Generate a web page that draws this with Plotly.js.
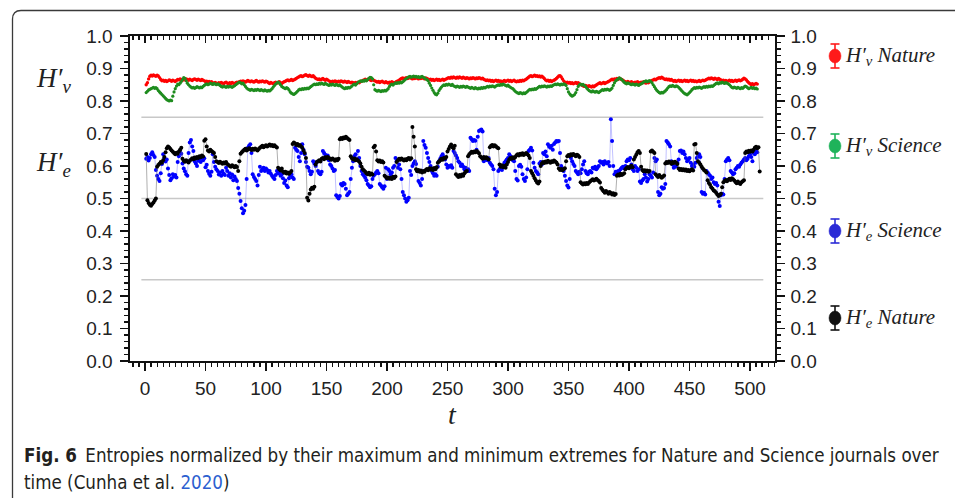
<!DOCTYPE html>
<html><head><meta charset="utf-8">
<script src="https://cdn.plot.ly/plotly-3.0.1.min.js"></script>
<style>html,body{margin:0;padding:0;background:#fff;overflow:hidden}#chart{width:955px;height:498px}</style>
</head><body><div id="chart"></div><script>
// H'_v Nature (red)
const hvNature = [
0.850,0.856,0.868,0.876,0.879,0.877,0.880,0.878,0.876,0.879,
0.877,0.872,0.866,0.862,0.864,0.861,0.863,0.860,0.862,0.865,
0.863,0.861,0.864,0.862,0.860,0.863,0.866,0.865,0.868,0.866,
0.864,0.867,0.865,0.868,0.866,0.864,0.867,0.865,0.863,0.866,
0.868,0.866,0.864,0.867,0.865,0.863,0.866,0.864,0.862,0.860,
0.861,0.858,0.860,0.857,0.859,0.856,0.854,0.857,0.855,0.853,
0.856,0.854,0.857,0.855,0.853,0.856,0.858,0.855,0.853,0.856,
0.854,0.857,0.855,0.853,0.856,0.858,0.857,0.859,0.861,0.860,
0.862,0.860,0.858,0.861,0.863,0.861,0.859,0.862,0.860,0.858,
0.861,0.863,0.860,0.858,0.861,0.859,0.862,0.860,0.858,0.861,
0.859,0.856,0.854,0.857,0.855,0.853,0.856,0.858,0.855,0.857,
0.859,0.856,0.854,0.857,0.859,0.861,0.863,0.865,0.862,0.864,
0.866,0.863,0.865,0.867,0.869,0.872,0.874,0.876,0.878,0.875,
0.877,0.879,0.881,0.878,0.876,0.879,0.877,0.875,0.878,0.874,
0.870,0.868,0.866,0.868,0.865,0.867,0.869,0.866,0.864,0.867,
0.865,0.862,0.860,0.858,0.861,0.859,0.862,0.860,0.858,0.861,
0.859,0.862,0.860,0.858,0.861,0.859,0.857,0.860,0.858,0.856,
0.858,0.856,0.854,0.857,0.855,0.858,0.856,0.859,0.861,0.863,
0.865,0.867,0.864,0.866,0.868,0.865,0.863,0.866,0.864,0.862,
0.860,0.858,0.860,0.857,0.859,0.861,0.858,0.856,0.859,0.857,
0.855,0.858,0.856,0.859,0.857,0.855,0.858,0.860,0.862,0.864,
0.867,0.869,0.871,0.868,0.870,0.872,0.869,0.871,0.873,0.870,
0.868,0.871,0.869,0.872,0.870,0.868,0.871,0.869,0.872,0.870,
0.868,0.871,0.869,0.867,0.865,0.867,0.864,0.866,0.863,0.865,
0.867,0.864,0.866,0.863,0.865,0.867,0.864,0.866,0.868,0.870,
0.872,0.870,0.873,0.871,0.874,0.872,0.870,0.873,0.871,0.874,
0.872,0.870,0.873,0.871,0.869,0.872,0.870,0.868,0.871,0.869,
0.872,0.870,0.868,0.871,0.869,0.872,0.870,0.868,0.870,0.867,
0.865,0.863,0.865,0.862,0.864,0.861,0.863,0.860,0.862,0.864,
0.861,0.863,0.860,0.862,0.859,0.861,0.863,0.860,0.862,0.864,
0.861,0.863,0.860,0.862,0.864,0.861,0.859,0.862,0.860,0.863,
0.861,0.864,0.862,0.865,0.867,0.870,0.873,0.876,0.878,0.875,
0.877,0.879,0.876,0.878,0.875,0.877,0.874,0.876,0.873,0.869,
0.865,0.862,0.864,0.861,0.863,0.860,0.862,0.864,0.866,0.869,
0.873,0.877,0.878,0.874,0.868,0.862,0.858,0.856,0.858,0.855,
0.857,0.854,0.856,0.853,0.855,0.857,0.854,0.856,0.853,0.851,
0.849,0.847,0.845,0.848,0.846,0.844,0.847,0.845,0.843,0.846,
0.844,0.847,0.849,0.852,0.854,0.856,0.853,0.855,0.857,0.854,
0.856,0.858,0.860,0.862,0.865,0.867,0.865,0.868,0.866,0.869,
0.867,0.870,0.868,0.866,0.864,0.861,0.859,0.857,0.860,0.858,
0.856,0.859,0.857,0.855,0.858,0.856,0.859,0.857,0.855,0.858,
0.856,0.859,0.857,0.855,0.858,0.856,0.859,0.861,0.863,0.865,
0.867,0.865,0.868,0.870,0.872,0.870,0.873,0.871,0.868,0.866,
0.868,0.865,0.867,0.864,0.866,0.863,0.861,0.863,0.860,0.862,
0.864,0.861,0.863,0.860,0.862,0.864,0.861,0.863,0.860,0.862,
0.864,0.861,0.863,0.860,0.862,0.859,0.861,0.863,0.860,0.862,
0.864,0.862,0.864,0.866,0.868,0.870,0.868,0.871,0.869,0.867,
0.870,0.868,0.866,0.869,0.867,0.865,0.862,0.864,0.861,0.863,
0.860,0.862,0.864,0.861,0.863,0.860,0.862,0.864,0.861,0.863,
0.865,0.862,0.864,0.867,0.870,0.868,0.865,0.860,0.856,0.853,
0.851,0.853,0.850,0.852,0.854,0.852];
// H'_v Science (green)
const hvScience = [
0.826,0.830,0.834,0.836,0.838,0.840,0.842,0.839,0.841,0.838,
0.832,0.828,0.824,0.820,0.816,0.812,0.808,0.804,0.802,0.800,
0.803,0.801,0.815,0.828,0.838,0.846,0.852,0.850,0.855,0.860,
0.866,0.872,0.870,0.862,0.855,0.850,0.846,0.843,0.840,0.842,
0.839,0.841,0.844,0.842,0.840,0.843,0.841,0.845,0.848,0.851,
0.853,0.850,0.852,0.855,0.853,0.851,0.854,0.852,0.850,0.853,
0.851,0.848,0.845,0.843,0.846,0.844,0.842,0.845,0.843,0.846,
0.844,0.842,0.845,0.847,0.850,0.853,0.856,0.858,0.856,0.853,
0.855,0.850,0.845,0.840,0.837,0.835,0.833,0.836,0.834,0.832,
0.835,0.833,0.836,0.834,0.832,0.835,0.833,0.831,0.834,0.832,
0.830,0.833,0.831,0.834,0.838,0.843,0.848,0.852,0.856,0.858,
0.855,0.850,0.845,0.842,0.840,0.838,0.841,0.839,0.834,0.828,
0.824,0.822,0.820,0.823,0.826,0.830,0.834,0.837,0.835,0.838,
0.836,0.839,0.837,0.840,0.838,0.841,0.844,0.847,0.850,0.852,
0.850,0.853,0.851,0.854,0.852,0.855,0.853,0.851,0.854,0.852,
0.850,0.848,0.851,0.849,0.852,0.850,0.848,0.851,0.849,0.847,
0.850,0.846,0.843,0.840,0.838,0.841,0.839,0.842,0.840,0.843,
0.846,0.850,0.852,0.849,0.853,0.857,0.860,0.862,0.860,0.863,
0.861,0.864,0.862,0.866,0.870,0.873,0.872,0.868,0.850,0.835,
0.832,0.830,0.833,0.831,0.829,0.832,0.830,0.833,0.831,0.834,
0.838,0.845,0.850,0.852,0.849,0.853,0.856,0.854,0.857,0.855,
0.858,0.856,0.859,0.862,0.866,0.869,0.872,0.874,0.876,0.873,
0.875,0.877,0.874,0.876,0.873,0.875,0.872,0.874,0.876,0.873,
0.871,0.868,0.866,0.862,0.855,0.848,0.840,0.833,0.826,0.821,
0.819,0.824,0.832,0.838,0.843,0.847,0.850,0.848,0.851,0.849,
0.852,0.850,0.848,0.851,0.847,0.845,0.843,0.846,0.844,0.842,
0.845,0.843,0.846,0.844,0.842,0.845,0.843,0.841,0.839,0.842,
0.840,0.838,0.841,0.839,0.837,0.840,0.838,0.841,0.839,0.842,
0.840,0.843,0.845,0.843,0.846,0.844,0.847,0.845,0.843,0.846,
0.848,0.850,0.848,0.851,0.849,0.852,0.850,0.848,0.846,0.849,
0.845,0.842,0.840,0.838,0.834,0.830,0.827,0.825,0.823,0.826,
0.824,0.822,0.825,0.823,0.826,0.829,0.833,0.836,0.834,0.837,
0.835,0.838,0.836,0.839,0.842,0.845,0.843,0.846,0.844,0.847,
0.845,0.843,0.846,0.844,0.847,0.845,0.848,0.850,0.852,0.850,
0.853,0.851,0.849,0.852,0.850,0.853,0.851,0.848,0.838,0.828,
0.822,0.818,0.815,0.817,0.820,0.826,0.835,0.845,0.850,0.852,
0.849,0.851,0.848,0.845,0.840,0.836,0.832,0.830,0.828,0.831,
0.829,0.827,0.830,0.828,0.826,0.829,0.832,0.835,0.833,0.836,
0.834,0.837,0.835,0.833,0.836,0.840,0.848,0.856,0.862,0.865,
0.868,0.871,0.869,0.866,0.862,0.858,0.855,0.853,0.856,0.854,
0.852,0.850,0.853,0.851,0.849,0.852,0.850,0.848,0.851,0.853,
0.855,0.858,0.860,0.862,0.859,0.861,0.863,0.860,0.856,0.850,
0.844,0.838,0.833,0.829,0.826,0.824,0.827,0.825,0.828,0.831,
0.835,0.840,0.844,0.847,0.845,0.848,0.846,0.844,0.847,0.845,
0.842,0.838,0.834,0.830,0.826,0.823,0.821,0.819,0.822,0.826,
0.830,0.835,0.838,0.841,0.839,0.842,0.840,0.843,0.841,0.839,
0.842,0.844,0.842,0.845,0.843,0.846,0.844,0.847,0.845,0.848,
0.851,0.854,0.856,0.853,0.857,0.855,0.858,0.856,0.854,0.857,
0.855,0.853,0.850,0.846,0.842,0.840,0.843,0.841,0.839,0.842,
0.840,0.838,0.841,0.839,0.843,0.846,0.844,0.841,0.838,0.840,
0.842,0.839,0.841,0.838,0.840,0.837];
// H'_e Science (blue)
const heScience = [
0.622,0.628,0.617,0.625,0.636,0.642,0.634,0.628,0.588,0.570,
0.560,0.554,0.578,0.606,0.636,0.625,0.614,0.620,0.592,0.572,
0.556,0.562,0.575,0.568,0.572,0.565,0.612,0.630,0.646,0.638,
0.608,0.592,0.584,0.575,0.570,0.640,0.672,0.680,0.660,0.646,
0.615,0.608,0.600,0.616,0.622,0.612,0.625,0.618,0.624,0.596,
0.604,0.585,0.576,0.570,0.582,0.636,0.612,0.598,0.590,0.585,
0.574,0.580,0.570,0.585,0.576,0.572,0.595,0.585,0.570,0.578,
0.565,0.574,0.556,0.568,0.560,0.554,0.532,0.515,0.492,0.470,
0.455,0.462,0.480,0.560,0.656,0.662,0.667,0.640,0.575,0.566,
0.560,0.554,0.540,0.572,0.598,0.585,0.590,0.595,0.585,0.592,
0.588,0.580,0.585,0.576,0.570,0.565,0.560,0.572,0.585,0.578,
0.582,0.570,0.575,0.562,0.548,0.555,0.540,0.535,0.562,0.570,
0.575,0.565,0.560,0.656,0.650,0.646,0.628,0.615,0.640,0.667,
0.650,0.636,0.612,0.598,0.595,0.585,0.575,0.582,0.615,0.608,
0.600,0.612,0.585,0.578,0.575,0.582,0.646,0.640,0.635,0.630,
0.632,0.618,0.605,0.600,0.592,0.585,0.588,0.510,0.505,0.500,
0.508,0.545,0.540,0.548,0.545,0.530,0.510,0.515,0.520,0.560,
0.595,0.615,0.630,0.636,0.620,0.646,0.625,0.600,0.585,0.575,
0.570,0.564,0.556,0.545,0.540,0.535,0.538,0.560,0.570,0.575,
0.580,0.585,0.578,0.545,0.540,0.535,0.530,0.538,0.595,0.560,
0.590,0.585,0.575,0.580,0.595,0.600,0.625,0.615,0.595,0.605,
0.590,0.560,0.520,0.510,0.500,0.490,0.495,0.502,0.585,0.572,
0.600,0.608,0.615,0.606,0.585,0.554,0.548,0.540,0.560,0.677,
0.665,0.656,0.640,0.625,0.612,0.600,0.585,0.578,0.570,0.575,
0.570,0.598,0.615,0.622,0.630,0.636,0.628,0.620,0.605,0.595,
0.600,0.598,0.602,0.595,0.646,0.640,0.632,0.625,0.615,0.610,
0.600,0.605,0.598,0.590,0.595,0.585,0.590,0.585,0.687,0.682,
0.677,0.680,0.678,0.650,0.690,0.708,0.710,0.712,0.706,0.615,
0.620,0.625,0.618,0.625,0.610,0.605,0.600,0.590,0.530,0.510,
0.520,0.585,0.590,0.595,0.588,0.600,0.610,0.615,0.620,0.625,
0.636,0.630,0.625,0.618,0.615,0.585,0.560,0.555,0.600,0.604,
0.598,0.575,0.560,0.554,0.565,0.590,0.646,0.650,0.656,0.648,
0.610,0.595,0.585,0.580,0.575,0.608,0.612,0.605,0.640,0.636,
0.645,0.630,0.667,0.660,0.656,0.662,0.650,0.668,0.672,0.677,
0.675,0.677,0.640,0.600,0.592,0.585,0.570,0.554,0.540,0.534,
0.560,0.625,0.615,0.606,0.600,0.585,0.580,0.575,0.582,0.578,
0.590,0.605,0.615,0.585,0.578,0.575,0.582,0.585,0.580,0.595,
0.592,0.598,0.590,0.595,0.600,0.615,0.610,0.612,0.605,0.615,
0.610,0.608,0.612,0.600,0.744,0.677,0.600,0.575,0.582,0.578,
0.585,0.580,0.590,0.595,0.598,0.592,0.600,0.615,0.620,0.618,
0.625,0.605,0.590,0.585,0.600,0.595,0.585,0.590,0.552,0.548,
0.555,0.560,0.575,0.565,0.552,0.560,0.575,0.570,0.565,0.580,
0.625,0.615,0.620,0.520,0.510,0.515,0.535,0.530,0.532,0.545,
0.677,0.672,0.667,0.660,0.615,0.605,0.595,0.598,0.600,0.610,
0.620,0.646,0.648,0.640,0.645,0.636,0.625,0.615,0.620,0.625,
0.610,0.600,0.605,0.598,0.610,0.625,0.630,0.636,0.628,0.520,
0.515,0.518,0.512,0.585,0.580,0.575,0.570,0.560,0.565,0.550,
0.545,0.548,0.540,0.490,0.477,0.510,0.515,0.512,0.560,0.615,
0.620,0.625,0.618,0.585,0.580,0.575,0.578,0.590,0.595,0.600,
0.598,0.605,0.610,0.615,0.620,0.625,0.618,0.622,0.630,0.636,
0.628,0.615,0.640,0.636,0.646,0.642];
// H'_e Nature (black)
const heNature = [
0.637,0.495,0.486,0.481,0.478,0.483,0.488,0.494,0.500,0.598,
0.603,0.607,0.612,0.610,0.618,0.628,0.642,0.655,0.660,0.657,
0.652,0.648,0.644,0.640,0.636,0.641,0.638,0.645,0.650,0.656,
0.622,0.616,0.613,0.618,0.614,0.611,0.616,0.620,0.624,0.621,
0.626,0.623,0.628,0.625,0.630,0.627,0.632,0.629,0.678,0.682,
0.660,0.648,0.645,0.650,0.646,0.643,0.640,0.628,0.615,0.612,
0.609,0.613,0.610,0.607,0.611,0.608,0.612,0.606,0.603,0.600,
0.598,0.602,0.599,0.596,0.600,0.597,0.585,0.615,0.638,0.642,
0.646,0.650,0.653,0.648,0.651,0.655,0.652,0.649,0.653,0.650,
0.654,0.651,0.648,0.652,0.656,0.659,0.662,0.658,0.661,0.664,
0.660,0.663,0.666,0.662,0.665,0.661,0.664,0.660,0.657,0.595,
0.590,0.586,0.592,0.583,0.579,0.582,0.577,0.580,0.576,0.580,
0.585,0.668,0.672,0.669,0.665,0.668,0.662,0.665,0.660,0.656,
0.648,0.640,0.625,0.502,0.494,0.515,0.528,0.533,0.530,0.536,
0.605,0.612,0.615,0.618,0.614,0.622,0.625,0.621,0.627,0.624,
0.628,0.625,0.622,0.619,0.623,0.620,0.616,0.621,0.618,0.622,
0.682,0.686,0.683,0.688,0.685,0.690,0.686,0.683,0.680,0.630,
0.624,0.620,0.623,0.618,0.621,0.617,0.614,0.608,0.598,0.590,
0.586,0.582,0.578,0.575,0.579,0.573,0.577,0.574,0.658,0.662,
0.645,0.618,0.614,0.617,0.612,0.615,0.611,0.570,0.566,0.562,
0.565,0.561,0.564,0.560,0.567,0.563,0.568,0.612,0.618,0.622,
0.619,0.623,0.620,0.617,0.621,0.618,0.622,0.625,0.620,0.624,
0.720,0.690,0.660,0.590,0.584,0.588,0.582,0.586,0.580,0.585,
0.582,0.588,0.591,0.587,0.593,0.589,0.592,0.588,0.594,0.590,
0.596,0.610,0.614,0.618,0.622,0.619,0.625,0.623,0.628,0.645,
0.652,0.660,0.666,0.658,0.655,0.662,0.575,0.570,0.566,0.572,
0.568,0.574,0.570,0.578,0.582,0.585,0.630,0.636,0.640,0.644,
0.641,0.645,0.642,0.646,0.643,0.639,0.630,0.626,0.622,0.628,
0.624,0.627,0.623,0.620,0.658,0.662,0.665,0.660,0.664,0.661,
0.657,0.655,0.605,0.598,0.602,0.596,0.600,0.595,0.605,0.612,
0.620,0.625,0.622,0.627,0.624,0.628,0.633,0.636,0.632,0.638,
0.635,0.639,0.634,0.637,0.640,0.636,0.632,0.625,0.585,0.578,
0.570,0.562,0.555,0.549,0.546,0.552,0.600,0.608,0.612,0.609,
0.614,0.611,0.616,0.613,0.610,0.615,0.612,0.617,0.614,0.611,
0.605,0.592,0.588,0.591,0.587,0.590,0.593,0.615,0.630,0.634,
0.631,0.636,0.633,0.637,0.634,0.630,0.635,0.632,0.628,0.550,
0.546,0.543,0.547,0.544,0.548,0.545,0.549,0.553,0.556,0.559,
0.555,0.558,0.561,0.557,0.554,0.549,0.532,0.527,0.522,0.518,
0.523,0.519,0.515,0.520,0.517,0.512,0.516,0.511,0.514,0.570,
0.574,0.571,0.576,0.572,0.575,0.578,0.590,0.594,0.597,0.593,
0.598,0.601,0.596,0.620,0.628,0.635,0.642,0.646,0.640,0.598,
0.588,0.584,0.587,0.583,0.586,0.582,0.585,0.645,0.648,0.644,
0.640,0.575,0.570,0.566,0.572,0.568,0.564,0.567,0.571,0.608,
0.612,0.609,0.614,0.611,0.607,0.612,0.609,0.613,0.610,0.606,
0.592,0.588,0.591,0.587,0.590,0.586,0.589,0.585,0.588,0.584,
0.587,0.590,0.586,0.666,0.668,0.640,0.615,0.610,0.605,0.598,
0.592,0.588,0.585,0.580,0.556,0.548,0.542,0.535,0.530,0.525,
0.522,0.518,0.512,0.508,0.510,0.515,0.535,0.550,0.554,0.557,
0.553,0.558,0.561,0.557,0.562,0.559,0.555,0.551,0.547,0.552,
0.548,0.545,0.550,0.553,0.556,0.640,0.645,0.642,0.647,0.644,
0.648,0.645,0.650,0.656,0.659,0.655,0.658,0.583];

const xTickVals = [0,50,100,150,200,250,300,350,400,450,500];
const yTickVals = [0,0.1,0.2,0.3,0.4,0.5,0.6,0.7,0.8,0.9,1.0];
const refLevels = [0.25,0.5,0.75];
const seriesNames = ["H′<sub>v</sub> Nature","H′<sub>v</sub> Science","H′<sub>e</sub> Science","H′<sub>e</sub> Nature"];
const legendColors = ["#ff1a1a","#1fb35a","#2b2bd6","#111111"];
const captionBold = "Fig. 6";
const captionLine1 = "Entropies normalized by their maximum and minimum extremes for Nature and Science journals over";
const captionLine2a = "time (Cunha et al. ";
const captionLine2b = "2020";
const captionLine2c = ")";

const tIdx = arr => arr.map((v,i)=>i+1);

// geometry (pixels)
const W=955,H=498,ML=130,MR=180,MT=36,MB=137;
const PW=W-ML-MR, PH=H-MT-MB;
const X = p => (p-ML)/PW;
const Y = p => 1-(p-MT)/PH;

const tickFontY = {family:"Liberation Sans, Arial, sans-serif", size:19, color:"#222"};
const tickFontX = {family:"Liberation Sans Narrow, Arial Narrow, Liberation Sans, sans-serif", size:19, color:"#222"};
const serif = "Liberation Serif, DejaVu Serif, serif";

const traces = [
 {x:tIdx(hvNature), y:hvNature, type:"scatter", mode:"lines+markers",
  line:{color:"rgba(255,0,0,0.35)", width:0.6}, marker:{color:"#ff0000", size:3.4}, showlegend:false, hoverinfo:"skip"},
 {x:tIdx(hvScience), y:hvScience, type:"scatter", mode:"lines+markers",
  line:{color:"rgba(30,140,30,0.3)", width:0.6}, marker:{color:"#1e8c1e", size:3.2}, showlegend:false, hoverinfo:"skip"},
 {x:tIdx(heScience), y:heScience, type:"scatter", mode:"lines+markers",
  line:{color:"rgba(120,120,255,0.45)", width:1}, marker:{color:"#0000ff", size:4}, showlegend:false, hoverinfo:"skip"},
 {x:tIdx(heNature), y:heNature, type:"scatter", mode:"lines+markers",
  line:{color:"rgba(110,110,110,0.55)", width:1}, marker:{color:"#000000", size:4}, showlegend:false, hoverinfo:"skip"},
 {x:[], y:[], xaxis:"x2", yaxis:"y", type:"scatter", showlegend:false},
 {x:[], y:[], xaxis:"x", yaxis:"y2", type:"scatter", showlegend:false}
];

const xr = [-12.4, -12.4 + PW/1.21];
const shapes = [];
refLevels.forEach(v=>shapes.push({type:"line", xref:"x", yref:"y", x0:-3, x1:511, y0:v, y1:v,
  line:{color:"#c8c8c8", width:1.3}, layer:"below"}));
// figure frame
shapes.push({type:"path", xref:"paper", yref:"paper",
  path:`M ${X(12.5)},${Y(510)} L ${X(12.5)},${Y(19)} Q ${X(12.5)},${Y(10.5)} ${X(21)},${Y(10.5)} L ${X(970)},${Y(10.5)}`,
  line:{color:"#3a3a3a", width:1.3}});
// legend glyphs
const legY = [56,146,231,318];
const legX = 835;
const annotations = [];
legY.forEach((cy,i)=>{
  const c = legendColors[i];
  shapes.push({type:"line", xref:"paper", yref:"paper", x0:X(legX), x1:X(legX), y0:Y(cy-12), y1:Y(cy+12), line:{color:c,width:1.6}});
  shapes.push({type:"line", xref:"paper", yref:"paper", x0:X(legX-4.5), x1:X(legX+4.5), y0:Y(cy-12), y1:Y(cy-12), line:{color:c,width:1.6}});
  shapes.push({type:"line", xref:"paper", yref:"paper", x0:X(legX-4.5), x1:X(legX+4.5), y0:Y(cy+12), y1:Y(cy+12), line:{color:c,width:1.6}});
  shapes.push({type:"circle", xref:"paper", yref:"paper", x0:X(legX-6), x1:X(legX+6), y0:Y(cy-7), y1:Y(cy+7), fillcolor:c, line:{color:c,width:0.5}});
  annotations.push({xref:"paper", yref:"paper", x:X(843), y:Y(cy), xanchor:"left", yanchor:"middle", showarrow:false,
    text:"<i>"+seriesNames[i]+"</i>", font:{family:serif, size:21, color:"#222"}});
});
// left-side labels
annotations.push({xref:"paper", yref:"paper", x:X(53), y:Y(80), xanchor:"center", yanchor:"middle", showarrow:false,
  text:"<i>H′<sub>v</sub></i>", font:{family:serif, size:27, color:"#222"}});
annotations.push({xref:"paper", yref:"paper", x:X(53), y:Y(164), xanchor:"center", yanchor:"middle", showarrow:false,
  text:"<i>H′<sub>e</sub></i>", font:{family:serif, size:27, color:"#222"}});
// x title
annotations.push({xref:"paper", yref:"paper", x:X(452), y:Y(414), xanchor:"center", yanchor:"middle", showarrow:false,
  text:"<i>t</i>", font:{family:serif, size:28, color:"#222"}});
// caption
const capFont = {family:"Liberation Sans Narrow, DejaVu Sans Condensed, Liberation Sans, sans-serif", size:18.6, color:"#231f20"};
annotations.push({xref:"paper", yref:"paper", x:X(22), y:Y(455), xanchor:"left", yanchor:"middle", showarrow:false,
  text:"<b>"+captionBold+"</b>\u2002"+captionLine1, font:capFont});
annotations.push({xref:"paper", yref:"paper", x:X(22), y:Y(482), xanchor:"left", yanchor:"middle", showarrow:false,
  text:captionLine2a+"<span style='color:#2d5fd0'>"+captionLine2b+"</span>"+captionLine2c, font:capFont});

const axLine = {showline:true, linecolor:"#111", linewidth:1.6, zeroline:false, showgrid:false};
const layout = {
  width:W, height:H, margin:{l:ML, r:MR, t:MT, b:MB, pad:0},
  paper_bgcolor:"#ffffff", plot_bgcolor:"#ffffff", showlegend:false,
  xaxis:Object.assign({}, axLine, {range:xr, tickmode:"array", tickvals:xTickVals, ticks:"outside", ticklen:8, tickwidth:1.5, tickcolor:"#111",
    tickfont:tickFontX, ticklabelstandoff:2, minor:{dtick:5, tick0:0, ticks:"outside", ticklen:4, tickwidth:1.2, tickcolor:"#111"}}),
  xaxis2:Object.assign({}, axLine, {range:xr, overlaying:"x", side:"top", anchor:"y", ticks:"inside", ticklen:7, tickwidth:1.5, tickcolor:"#111",
    tickmode:"array", tickvals:xTickVals, showticklabels:false, minor:{dtick:5, tick0:0, ticks:"inside", ticklen:4, tickwidth:1.2, tickcolor:"#111"}}),
  yaxis:Object.assign({}, axLine, {range:[0,1], tickmode:"array", tickvals:yTickVals, tickformat:".1f", ticks:"outside", ticklen:8, tickwidth:1.5, tickcolor:"#111",
    tickfont:tickFontY, ticklabelstandoff:4, minor:{dtick:0.02, tick0:0, ticks:"outside", ticklen:4, tickwidth:1.2, tickcolor:"#111"}}),
  yaxis2:Object.assign({}, axLine, {range:[0,1], overlaying:"y", side:"right", anchor:"x", tickmode:"array", tickvals:yTickVals, tickformat:".1f",
    ticks:"outside", ticklen:8, tickwidth:1.5, tickcolor:"#111", tickfont:tickFontY, ticklabelstandoff:2,
    minor:{dtick:0.02, tick0:0, ticks:"outside", ticklen:4, tickwidth:1.2, tickcolor:"#111"}}),
  shapes:shapes, annotations:annotations
};
Plotly.newPlot("chart", traces, layout, {displayModeBar:false, staticPlot:true});
</script></body></html>
